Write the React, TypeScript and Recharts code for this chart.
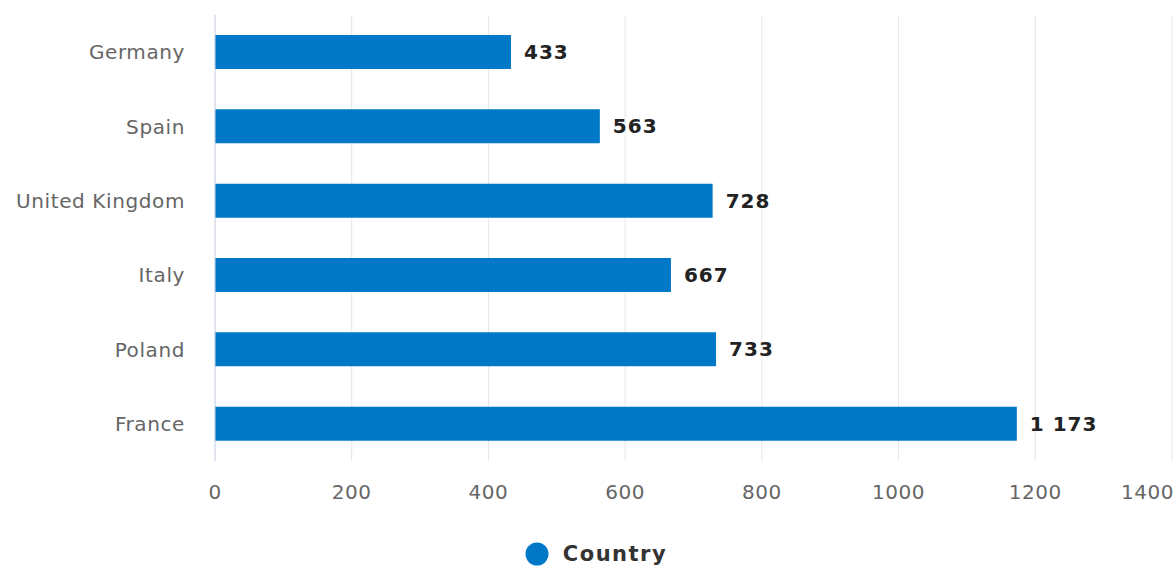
import React from 'react';
import { BarChart, Bar, XAxis, YAxis, CartesianGrid, LabelList, Legend } from 'recharts';

const categories = ['Germany', 'Spain', 'United Kingdom', 'Italy', 'Poland', 'France'];
const values = [433, 563, 728, 667, 733, 1173];
const xTicks = [0, 200, 400, 600, 800, 1000, 1200, 1400];
const seriesName = 'Country';

const data = categories.map((c, i) => ({ name: c, value: values[i] }));

const FONT = '"DejaVu Sans", Verdana, sans-serif';
const CHART_W = 1175;

const fmt = (v: number) => String(v).replace(/\B(?=(\d{3})+(?!\d))/g, ' ');

const XTick = (props: any) => {
  const { x, y, payload } = props;
  const label = String(payload.value);
  const approxW = label.length * 12.8;
  let anchor: 'middle' | 'end' = 'middle';
  let tx = x;
  if (x + approxW / 2 > CHART_W - 2) {
    anchor = 'end';
    tx = CHART_W - 1;
  }
  return (
    <text x={tx} y={y} dy="0.71em" textAnchor={anchor} fill="#666666" fontSize={20} fontFamily={FONT} letterSpacing={0.5}>
      {label}
    </text>
  );
};

const LegendContent = () => (
  <div style={{ display: 'flex', justifyContent: 'center', alignItems: 'center', height: 26, fontFamily: FONT, paddingLeft: 20 }}>
    <svg width={24} height={24} style={{ marginRight: 14 }}>
      <circle cx={12} cy={12} r={11.5} fill="#0078c8" />
    </svg>
    <span style={{ fontSize: 21, fontWeight: 'bold', color: '#333333', letterSpacing: 1.5 }}>{seriesName}</span>
  </div>
);

export default function App() {
  return (
    <div style={{ position: 'absolute', left: 0, top: 0, width: 1175, height: 567, background: '#fff' }}>
      <BarChart
        width={1175}
        height={567}
        data={data}
        layout="vertical"
        margin={{ top: 15, right: 3, bottom: 0, left: 0 }}
        barCategoryGap={0}
      >
        <CartesianGrid horizontal={false} stroke="#e6e6e6" strokeWidth={1} />
        <XAxis
          type="number"
          domain={[0, 1400]}
          ticks={xTicks}
          interval={0}
          axisLine={false}
          tickLine={false}
          tickSize={0}
          tickMargin={24}
          height={80}
          tick={<XTick />}
        />
        <YAxis
          type="category"
          dataKey="name"
          width={215}
          axisLine={{ stroke: '#ccd6eb', strokeWidth: 1 }}
          tickLine={false}
          tickSize={0}
          tickMargin={30}
          tick={{ fill: '#666666', fontSize: 20, fontFamily: FONT, letterSpacing: 0.6 }}
        />
        <Legend verticalAlign="bottom" content={<LegendContent />} />
        <Bar dataKey="value" name={seriesName} fill="#0078c8" barSize={34} isAnimationActive={false}>
          <LabelList
            dataKey="value"
            position="right"
            offset={13}
            formatter={(v: any) => fmt(Number(v))}
            style={{ fill: '#222222', fontSize: 20, fontWeight: 'bold', fontFamily: FONT, letterSpacing: 1 }}
          />
        </Bar>
      </BarChart>
    </div>
  );
}
